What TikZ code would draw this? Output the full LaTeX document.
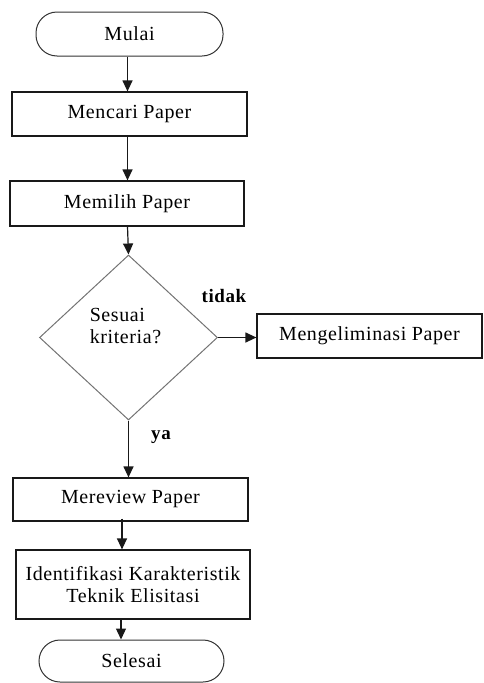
\documentclass[tikz,border=0pt]{standalone}
\usepackage{fontspec}
\setmainfont[LetterSpace=3]{Liberation Serif}
\usetikzlibrary{shapes.geometric,arrows.meta}
\begin{document}
\begin{tikzpicture}[x=1pt,y=-1pt,
  every node/.style={font=\fontsize{20}{22}\selectfont},
  procbox/.style={draw=black!90,line width=1.2pt,rectangle,inner sep=0pt},
  termbox/.style={draw=black!80,line width=1pt,rectangle,rounded corners=21pt,inner sep=0pt},
  decbox/.style={draw=black!55,line width=1pt,diamond,inner sep=0pt,minimum width=178pt,minimum height=165pt},
  arr/.style={draw=black!90,line width=1.2pt,-{Triangle[length=11pt,width=10pt]}},
  lbl/.style={font=\fontsize{19}{22}\selectfont\bfseries}]
\useasboundingbox (0,0) rectangle (483,683);
\node[termbox,minimum width=187pt,minimum height=44pt] (mulai) at (129.5,34) {Mulai};
\node[procbox,minimum width=235pt,minimum height=44pt] (cari) at (129.5,114) {Mencari Paper};
\node[procbox,minimum width=234pt,minimum height=45pt] (pilih) at (127,203.5) {Memilih Paper};
\node[decbox,label={[align=left,xshift=-3pt,yshift=11pt]center:Sesuai\\kriteria?}] (sesuai) at (128.5,337.5) {};
\node[procbox,minimum width=225pt,minimum height=44pt] (elim) at (369.5,336) {Mengeliminasi Paper};
\node[procbox,minimum width=235pt,minimum height=43pt] (review) at (130.5,499.5) {Mereview Paper};
\node[procbox,minimum width=234pt,minimum height=69pt,align=center] (ident) at (133,584.5) {Identifikasi Karakteristik\\Teknik Elisitasi};
\node[termbox,minimum width=185pt,minimum height=42pt] (selesai) at (131.5,661) {Selesai};
\node[lbl] (tidak) at (224,296) {tidak};
\node[lbl] (ya) at (161,437) {ya};
\draw[arr] (mulai.south -| 127.5,0) -- (cari.north -| 127.5,0);
\draw[arr] (cari.south -| 127.5,0) -- (pilih.north -| 127.5,0);
\draw[arr] (pilih.south -| 127.5,0) -- (sesuai.north);
\draw[arr] (sesuai.east) -- (elim.west |- sesuai.east);
\draw[arr] (sesuai.south) -- (review.north -| sesuai.south);
\draw[arr] ([yshift=3pt]review.south -| 122,0) -- (ident.north -| 122,0);
\draw[arr] (ident.south -| 121,0) -- (selesai.north -| 121,0);
\end{tikzpicture}
\end{document}
